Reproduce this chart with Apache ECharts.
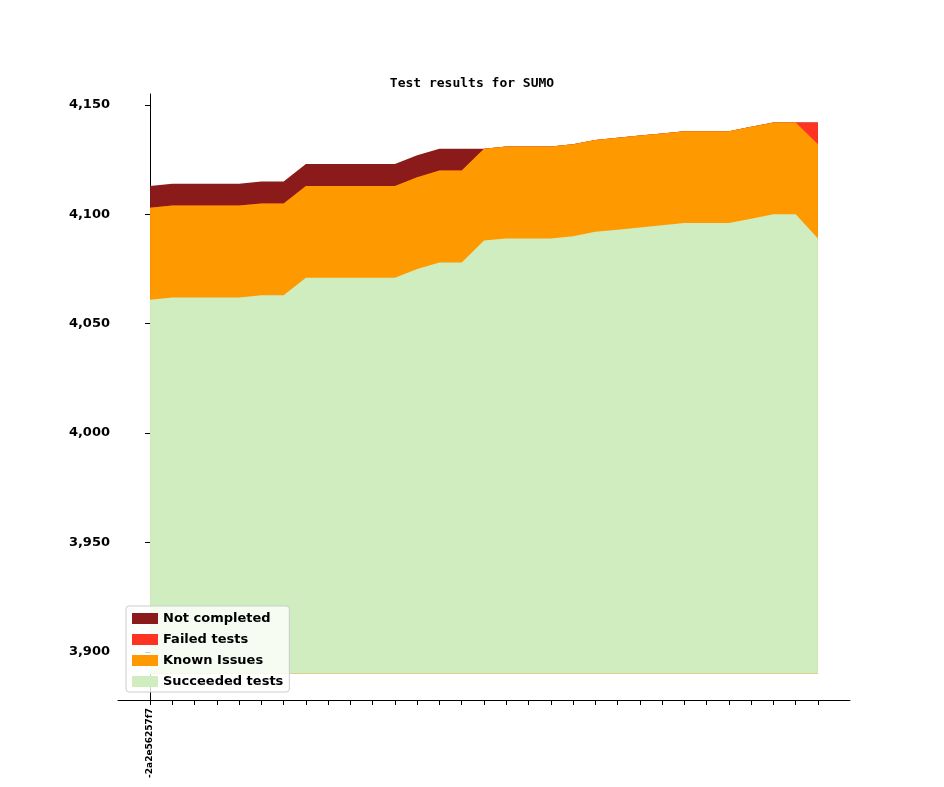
<!DOCTYPE html>
<html><head><meta charset="utf-8">
<script src="https://cdn.jsdelivr.net/npm/echarts@6/dist/echarts.min.js"></script>
<style>html,body{margin:0;background:#fff}#c{width:944px;height:787px}</style>
</head><body><div id="c"></div>
<script>
const commits = ["-2a2e56257f7"];
const baseline = 3890;
const succeeded = [4061,4062,4062,4062,4062,4063,4063,4071,4071,4071,4071,4071,4075,4078,4078,4088,4089,4089,4089,4090,4092,4093,4094,4095,4096,4096,4096,4098,4100,4100,4089];
const known = [42,42,42,42,42,42,42,42,42,42,42,42,42,42,42,42,42,42,42,42,42,42,42,42,42,42,42,42,42,42,43];
const failed = [0,0,0,0,0,0,0,0,0,0,0,0,0,0,0,0,0,0,0,0,0,0,0,0,0,0,0,0,0,0,10];
const notCompleted = [10,10,10,10,10,10,10,10,10,10,10,10,10,10,10,0,0,0,0,0,0,0,0,0,0,0,0,0,0,0,0];
const yTicks = [3900,3950,4000,4050,4100,4150];

const lvl1 = succeeded;
const lvl2 = lvl1.map((v,i)=>v+known[i]);
const lvl3 = lvl2.map((v,i)=>v+failed[i]);
const lvl4 = lvl3.map((v,i)=>v+notCompleted[i]);
const mk = (name, arr, color) => ({
  name, type:'line', data: arr.map((v,i)=>[i,v]), symbol:'none',
  lineStyle:{width:0}, itemStyle:{color},
  areaStyle:{color, opacity:1, origin: baseline}
});
const chart = echarts.init(document.getElementById('c'));
chart.setOption({
  animation:false,
  title:{text:'Test results for SUMO', left:'center', top:72,
    textStyle:{fontFamily:'DejaVu Sans Mono', fontSize:13, fontWeight:'bold', color:'#000'}},
  grid:{left:118, right:94, top:94, bottom:87},
  xAxis:{type:'value', min:-1.44, max:31.44,
    axisLine:{onZero:false, lineStyle:{color:'#000'}}, splitLine:{show:false},
    axisTick:{customValues:succeeded.map((v,i)=>i), lineStyle:{color:'#000'}},
    axisLabel:{customValues:[0], rotate:90, fontSize:9, fontWeight:'bold', color:'#000',
      fontFamily:'DejaVu Sans', formatter:()=>commits[0]}},
  yAxis:{type:'value', min:3878, max:4155,
    axisLine:{show:true, lineStyle:{color:'#000'}}, splitLine:{show:false},
    axisTick:{show:true, customValues:yTicks, lineStyle:{color:'#000'}},
    axisLabel:{customValues:yTicks, fontSize:13, fontWeight:'bold', color:'#000', fontFamily:'DejaVu Sans'}},
  legend:{orient:'vertical', left:126, top:606, itemWidth:26, itemHeight:11, itemGap:8,
    icon:'rect', backgroundColor:'rgba(255,255,255,0.8)', borderColor:'#ccc', borderWidth:1,
    borderRadius:3, padding:[6,6,4,6],
    textStyle:{fontSize:13, fontWeight:'bold', color:'#000', fontFamily:'DejaVu Sans'},
    data:['Not completed','Failed tests','Known Issues','Succeeded tests']},
  series:[
    mk('Not completed', lvl4, '#8b1a1a'),
    mk('Failed tests', lvl3, '#ff3322'),
    mk('Known Issues', lvl2, '#ff9900'),
    mk('Succeeded tests', lvl1, '#cfedbf')
  ]
});
</script></body></html>
